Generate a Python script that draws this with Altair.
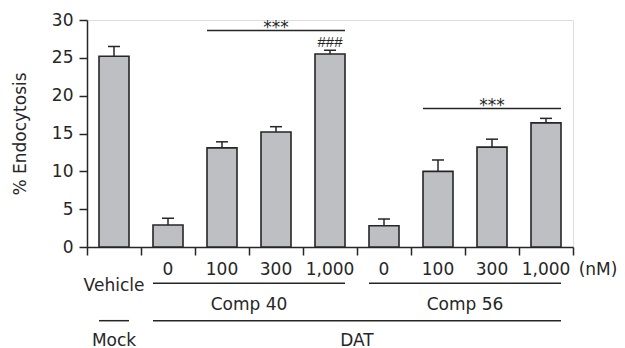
import altair as alt
import pandas as pd

# ---- data ----
doses = ["Vehicle", "0", "100", "300", "1,000", "0", "100", "300", "1,000"]
values = [25.2, 2.9, 13.1, 15.2, 25.5, 2.8, 10.0, 13.2, 16.4]
errors = [1.3, 0.9, 0.8, 0.7, 0.5, 0.9, 1.5, 1.05, 0.6]
y_ticks = [0, 5, 10, 15, 20, 25, 30]

sig_labels = ["***", "***"]
sig_start = [2, 6]
sig_end = [4, 8]
sig_level = [28.6, 18.3]

comp_labels = ["Comp 40", "Comp 56"]
comp_start = [1, 5]
comp_end = [4, 8]

cell_labels = ["Mock", "DAT"]
cell_start = [0, 1]
cell_end = [0, 8]

hash_label = "###"
hash_bar = 4

# ---- styling ----
FONT = "DejaVu Sans"
INK = "#262626"
FILL = "#bebfc2"
HALF = 15 / 54   # half bar width in category units
CAP = 6 / 54     # half cap width

df = pd.DataFrame({"pos": list(range(len(values))), "value": values,
                   "err": errors, "dose": doses})
df["base"] = 0.0
df["left"] = df["pos"] - HALF
df["right"] = df["pos"] + HALF
df["top"] = df["value"] + df["err"]
df["capl"] = df["pos"] - CAP
df["capr"] = df["pos"] + CAP

sig = pd.DataFrame({"label": sig_labels, "s": sig_start, "e": sig_end, "y": sig_level})
sig["x1"] = sig["s"] - HALF
sig["x2"] = sig["e"] + HALF
sig["xm"] = (sig["s"] + sig["e"]) / 2

comp = pd.DataFrame({"label": comp_labels, "s": comp_start, "e": comp_end})
comp["x1"] = comp["s"] - HALF
comp["x2"] = comp["e"] + HALF
comp["xm"] = (comp["s"] + comp["e"]) / 2

cell = pd.DataFrame({"label": cell_labels, "s": cell_start, "e": cell_end})
cell["x1"] = cell["s"] - HALF
cell["x2"] = cell["e"] + HALF
cell["xm"] = (cell["s"] + cell["e"]) / 2

hashdf = pd.DataFrame({"label": [hash_label], "pos": [hash_bar],
                       "top": [values[hash_bar] + errors[hash_bar]]})

xscale = alt.Scale(domain=[-0.5, len(values) - 0.5], nice=False, zero=False)
yscale = alt.Scale(domain=[0, 30], nice=False)

x_axis = alt.Axis(values=[i - 0.5 for i in range(len(values) + 1)], labels=False,
                  title=None, tickSize=8, grid=False, domainColor=INK, tickColor=INK,
                  domainWidth=1.5, tickWidth=1.5)
y_axis = alt.Axis(values=y_ticks, title="% Endocytosis", tickSize=8, grid=False,
                  domainColor=INK, tickColor=INK, domainWidth=1.5, tickWidth=1.5,
                  labelFont=FONT, labelFontSize=17, labelColor=INK, labelPadding=6,
                  titleFont=FONT, titleFontSize=17, titleFontWeight="normal",
                  titleColor=INK, titlePadding=22)


def X(field):
    return alt.X(field, scale=xscale, axis=x_axis)


def Y(field):
    return alt.Y(field, scale=yscale, axis=y_axis)


base = alt.Chart(df)

err_line = base.mark_rule(color=INK, strokeWidth=1.5).encode(
    x=X("pos:Q"), y=Y("value:Q"), y2="top:Q")
err_cap = base.mark_rule(color=INK, strokeWidth=1.5).encode(
    x=X("capl:Q"), x2="capr:Q", y=Y("top:Q"))
bars = base.mark_bar(fill=FILL, stroke=INK, strokeWidth=1.6).encode(
    x=X("left:Q"), x2="right:Q", y=Y("value:Q"), y2="base:Q")

# dose labels under the axis
dose_txt = alt.Chart(df[df["pos"] > 0]).mark_text(
    font=FONT, fontSize=17, color=INK, baseline="alphabetic").encode(
    x=X("pos:Q"), y=alt.value(255), text="dose:N")
veh_txt = alt.Chart(df[df["pos"] == 0]).mark_text(
    font=FONT, fontSize=17, color=INK, baseline="alphabetic").encode(
    x=X("pos:Q"), y=alt.value(270.5), text="dose:N")
nm_txt = alt.Chart(pd.DataFrame({"t": ["(nM)"]})).mark_text(
    font=FONT, fontSize=17, color=INK, baseline="alphabetic").encode(
    x=alt.value(511), y=alt.value(255), text="t:N")

comp_rule = alt.Chart(comp).mark_rule(color=INK, strokeWidth=1.5).encode(
    x=X("x1:Q"), x2="x2:Q", y=alt.value(263.3))
comp_txt = alt.Chart(comp).mark_text(
    font=FONT, fontSize=17, color=INK, baseline="alphabetic").encode(
    x=X("xm:Q"), y=alt.value(289.5), text="label:N")

cell_rule = alt.Chart(cell).mark_rule(color=INK, strokeWidth=1.5).encode(
    x=X("x1:Q"), x2="x2:Q", y=alt.value(300.7))
cell_txt = alt.Chart(cell).mark_text(
    font=FONT, fontSize=17, color=INK, baseline="alphabetic").encode(
    x=X("xm:Q"), y=alt.value(325.5), text="label:N")

sig_rule = alt.Chart(sig).mark_rule(color=INK, strokeWidth=1.5).encode(
    x=X("x1:Q"), x2="x2:Q", y=Y("y:Q"))
sig_txt = alt.Chart(sig).mark_text(
    font=FONT, fontSize=17, color=INK, baseline="alphabetic", dy=2).encode(
    x=X("xm:Q"), y=Y("y:Q"), text="label:N")

hash_txt = alt.Chart(hashdf).mark_text(
    font="Liberation Sans", fontSize=15, color=INK, baseline="alphabetic", dy=-3).encode(
    x=X("pos:Q"), y=Y("top:Q"), text="label:N")

chart = alt.layer(
    err_line, err_cap, bars, dose_txt, veh_txt, nm_txt, comp_rule, comp_txt,
    cell_rule, cell_txt, sig_rule, sig_txt, hash_txt
).properties(
    width=486, height=227,
    padding={"left": 79, "top": 12, "right": 44, "bottom": 101},
    autosize="none",
).configure_view(stroke=None).configure(background="white")

chart.save("out.html", embed_options={"renderer": "svg", "actions": False})
